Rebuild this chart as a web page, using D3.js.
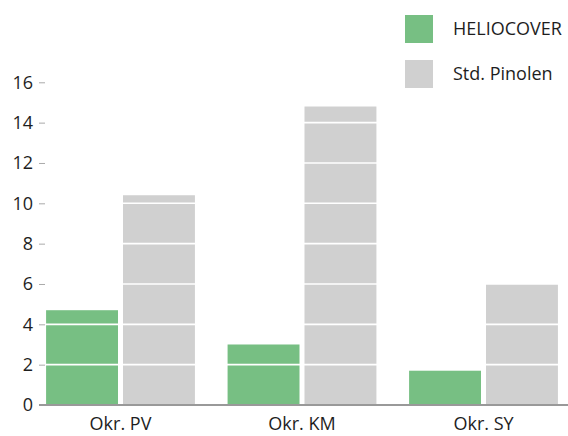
<!DOCTYPE html>
<html><head><meta charset="utf-8">
<script src="https://cdn.jsdelivr.net/npm/d3@7"></script>
<style>body{margin:0;background:#fff}svg{display:block}text{font-family:"Open Sans",sans-serif}</style>
</head><body><svg id="c" width="568" height="436"></svg>
<script>
const categories = ["Okr. PV", "Okr. KM", "Okr. SY"];
const seriesNames = ["HELIOCOVER", "Std. Pinolen"];
const heliocover = [4.7, 3.0, 1.7];
const pinolen = [10.4, 14.8, 6.0];
const yTicks = [0, 2, 4, 6, 8, 10, 12, 14, 16];
const colors = ["#77bf83", "#d0d0d0"];

const svg = d3.select("#c");
const W = 568;
const y = d3.scaleLinear().domain([0, 16]).range([405, 82.3]);
const x0 = d3.scaleBand().domain(categories).range([29.75, 574.25]).paddingInner(0.18).paddingOuter(0.09);
const x1 = d3.scaleBand().domain(seriesNames).range([0, x0.bandwidth()]).paddingInner(0.065);
const color = d3.scaleOrdinal().domain(seriesNames).range(colors);
const vals = [heliocover, pinolen];

const g = svg.append("g");
categories.forEach((c, i) => {
  seriesNames.forEach((s, j) => {
    g.append("rect")
      .attr("x", x0(c) + x1(s))
      .attr("y", y(vals[j][i]))
      .attr("width", x1.bandwidth())
      .attr("height", y(0) - y(vals[j][i]))
      .attr("fill", color(s));
  });
});

// white gridlines over bars
svg.append("g").selectAll("line").data(yTicks.filter(d => d > 0)).join("line")
  .attr("x1", 45).attr("x2", W)
  .attr("y1", d => y(d)).attr("y2", d => y(d))
  .attr("stroke", "#fff").attr("stroke-width", 1.6);

// y axis
const ya = svg.append("g").attr("transform", "translate(45,0)")
  .call(d3.axisLeft(y).tickValues(yTicks).tickSize(6).tickPadding(6));
ya.select(".domain").remove();
ya.selectAll(".tick line").attr("stroke", "#aaa");
ya.selectAll(".tick text").attr("fill", "#1e1e1e").style("font-size", "18px").style("font-family", "'Open Sans', sans-serif");

// x axis
const xa = svg.append("g").attr("transform", "translate(0,405)")
  .call(d3.axisBottom(x0).tickSize(0).tickPadding(12));
xa.select(".domain").remove();
xa.selectAll(".tick text").attr("fill", "#1e1e1e").style("font-size", "18px").style("font-family", "'Open Sans', sans-serif");
svg.append("line").attr("x1", 39).attr("x2", W).attr("y1", 405).attr("y2", 405)
  .attr("stroke", "#999").attr("stroke-width", 2);

// legend
const lg = svg.append("g");
seriesNames.forEach((s, j) => {
  lg.append("rect").attr("x", 405).attr("y", 15 + j * 45).attr("width", 28).attr("height", 28).attr("fill", color(s));
  lg.append("text").attr("x", 453).attr("y", 29 + j * 45).attr("dy", "0.35em")
    .attr("fill", "#1e1e1e").style("font-size", "18px").text(s);
});
</script></body></html>
